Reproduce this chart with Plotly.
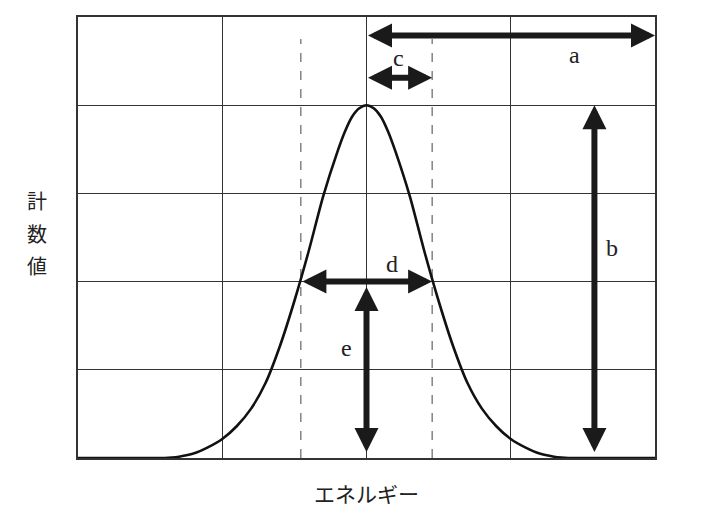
import plotly.graph_objects as go

# ---- data ----
energy = [0.0, 0.2, 0.4, 0.5, 0.6, 0.65, 0.7, 0.8, 0.9, 1.0, 1.1, 1.2, 1.3, 1.4, 1.5,
          1.6, 1.7, 1.8, 1.85, 1.9, 1.95, 2.0, 2.05, 2.1, 2.15, 2.2, 2.3, 2.4, 2.5, 2.6, 2.7,
          2.8, 2.9, 3.0, 3.1, 3.2, 3.3, 3.35, 3.4, 3.5, 3.6, 3.8, 4.0]
counts = [0.0, 0.0, 0.0, 0.0, 0.0, 0.005, 0.015, 0.05, 0.12, 0.215, 0.36, 0.56, 0.85, 1.27, 1.78,
          2.35, 2.97, 3.48, 3.70, 3.87, 3.965, 4.0, 3.965, 3.87, 3.70, 3.48, 2.97, 2.35, 1.78, 1.27, 0.85,
          0.56, 0.36, 0.215, 0.12, 0.05, 0.015, 0.005, 0.0, 0.0, 0.0, 0.0, 0.0]

fwhm_edges = [1.545, 2.455]      # dashed guide lines
dashed_top = 4.75

# arrows: (x_start, y_start, x_end, y_end)
arrow_names = ["a", "c", "b", "d", "e"]
arrow_x0 = [2.0, 2.0, 3.58, 1.545, 2.0]
arrow_y0 = [4.79, 4.31, 0.05, 2.0, 0.05]
arrow_x1 = [4.0, 2.455, 3.58, 2.455, 2.0]
arrow_y1 = [4.79, 4.31, 4.0, 2.0, 1.94]

label_text = ["a", "c", "b", "d", "e"]
label_x = [3.44, 2.22, 3.70, 2.175, 1.86]
label_y = [4.57, 4.54, 2.38, 2.20, 1.25]

y_title_chars = ["計", "数", "値"]
x_title = "エネルギー"

# page offset (browser body margin)
OFF = 8
W, H = 696, 512
ml, mr, mt, mb = 70, 49, 7, 62
pw, ph = W - ml - mr, H - mt - mb

fig = go.Figure()

for xe in fwhm_edges:
    fig.add_trace(go.Scatter(x=[xe, xe], y=[0, dashed_top], mode="lines",
                             line=dict(color="#444444", width=1, dash="dash"),
                             hoverinfo="skip", showlegend=False))

fig.add_trace(go.Scatter(x=energy, y=counts, mode="lines",
                         line=dict(color="#111111", width=2.6, shape="spline", smoothing=0.8),
                         hoverinfo="skip", showlegend=False))

for x0, y0, x1, y1 in zip(arrow_x0, arrow_y0, arrow_x1, arrow_y1):
    fig.add_annotation(
        x=x1, y=y1, ax=x0, ay=y0, xref="x", yref="y", axref="x", ayref="y",
        text="", showarrow=True, arrowhead=2, startarrowhead=2, arrowside="end+start",
        arrowwidth=6, arrowsize=0.8, startarrowsize=0.8, arrowcolor="#1a1a1a")

for t, lx, ly in zip(label_text, label_x, label_y):
    fig.add_annotation(x=lx, y=ly, xref="x", yref="y", text=t, showarrow=False,
                       font=dict(family="Liberation Serif", size=24, color="#222222"))


def px_to_paper(px, py):
    return ((px - OFF) - ml) / pw, 1 - ((py - OFF) - mt) / ph


for i, ch in enumerate(y_title_chars):
    ax_, ay_ = px_to_paper(37, 199 + 33 * i)
    fig.add_annotation(x=ax_, y=ay_, xref="paper", yref="paper", text=ch,
                       showarrow=False, xanchor="center", yanchor="middle",
                       font=dict(family="Noto Sans CJK JP", size=20, color="#222222"))

tx, ty = px_to_paper(366, 493)
fig.add_annotation(x=tx, y=ty, xref="paper", yref="paper", text=x_title,
                   showarrow=False, xanchor="center", yanchor="middle",
                   font=dict(family="Noto Sans CJK JP", size=21, color="#222222"))

fig.update_xaxes(range=[0, 4], dtick=1, showgrid=True, gridcolor="#333333", gridwidth=1,
                 showticklabels=False, ticks="", zeroline=False,
                 showline=True, mirror=True, linecolor="#333333", linewidth=1.5)
fig.update_yaxes(range=[0, 5], dtick=1, showgrid=True, gridcolor="#333333", gridwidth=1,
                 showticklabels=False, ticks="", zeroline=False,
                 showline=True, mirror=True, linecolor="#333333", linewidth=1.5)

fig.update_layout(width=W, height=H, margin=dict(l=ml, r=mr, t=mt, b=mb),
                  plot_bgcolor="white", paper_bgcolor="white", showlegend=False)

fig.write_html("out.html")
